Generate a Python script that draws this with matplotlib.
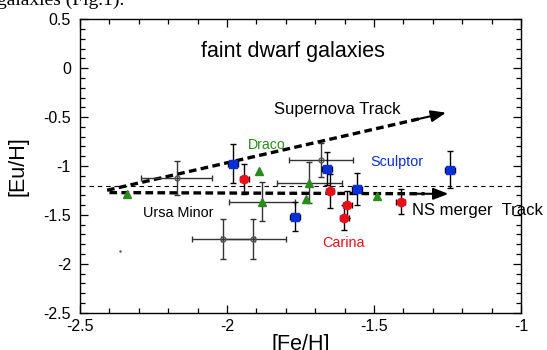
import matplotlib
matplotlib.use("Agg")
import matplotlib.pyplot as plt
from matplotlib.ticker import MultipleLocator

plt.rcParams["font.family"] = ["Liberation Sans", "DejaVu Sans"]

# blue squares
blue_x = [-1.981, -1.661, -1.559, -1.769, -1.240]
blue_y = [-0.976, -1.028, -1.235, -1.518, -1.038]
blue_xerr = [0.017, 0.017, 0.017, 0.017, 0.017]
blue_yerr = [0.196, 0.167, 0.16, 0.148, 0.19]

# red circles
red_x = [-1.941, -1.650, -1.591, -1.601, -1.409]
red_y = [-1.136, -1.253, -1.396, -1.529, -1.365]
red_xerr = [0.015, 0.015, 0.015, 0.015, 0.015]
red_yerr = [0.155, 0.176, 0.14, 0.13, 0.13]

# green triangles (two of them carry error bars)
green_x = [-2.341, -1.891, -1.731, -1.491]
green_y = [-1.289, -1.048, -1.337, -1.304]
green_err_x = [-1.881, -1.720]
green_err_y = [-1.365, -1.171]
green_xerr = [0.113, 0.11]
green_yerr = [0.2, 0.21]

# grey open circles
grey_x = [-2.171, -2.013, -1.911, -1.680]
grey_y = [-1.123, -1.746, -1.746, -0.939]
grey_xerr = [0.12, 0.107, 0.11, 0.11]
grey_yerr = [0.178, 0.2, 0.2, 0.176]

# tracks: (start, end)
sn_track = [(-2.408, -1.248), (-1.255, -0.455)]
ns_track = [(-2.40, -1.272), (-1.247, -1.285)]
ref_level = -1.205

BLUE, RED, GREEN = "#0a2fd6", "#e8101c", "#2a8c1c"

fig = plt.figure(figsize=(5.47, 3.5), dpi=100)
ax = fig.add_axes([0.1463, 0.1066, 0.8062, 0.8383])

ax.plot([-2.47, -1.0], [ref_level, ref_level], color="black", lw=0.8,
        dashes=(4, 3.5))

# dashed tracks with arrowheads
for (x0, y0), (x1, y1) in (sn_track, ns_track):
    ax.plot([x0, x0 + 0.93 * (x1 - x0)], [y0, y0 + 0.93 * (y1 - y0)],
            color="black", lw=2.4, dashes=(2.3, 1.3), solid_capstyle="butt")
    ax.annotate("", xy=(x1, y1),
                xytext=(x0 + 0.9 * (x1 - x0), y0 + 0.9 * (y1 - y0)),
                arrowprops=dict(arrowstyle="-|>,head_length=0.9,head_width=0.35",
                                color="black", lw=1.5, shrinkA=0, shrinkB=0))

ax.errorbar(grey_x, grey_y, xerr=grey_xerr, yerr=grey_yerr, fmt="o", ms=3.5,
            mfc="none", mec="#555555", ecolor="#333333", elinewidth=1,
            capsize=2.2, capthick=1)
ax.errorbar(green_err_x, green_err_y, xerr=green_xerr, yerr=green_yerr, fmt="^",
            ms=6, color=GREEN, ecolor="#333333", elinewidth=1, capsize=2.2,
            capthick=1)
ax.plot(green_x, green_y, "^", ms=6, color=GREEN)
ax.errorbar(blue_x, blue_y, xerr=blue_xerr, yerr=blue_yerr, fmt="s", ms=6.2,
            color=BLUE, ecolor="black", elinewidth=1, capsize=2.2, capthick=1)
ax.errorbar(red_x, red_y, xerr=red_xerr, yerr=red_yerr, fmt="o", ms=6,
            color=RED, ecolor="black", elinewidth=1, capsize=2.2, capthick=1)
ax.plot([-2.364], [-1.869], ".", ms=1.5, color="#555555")

ax.text(-1.777, 0.17, "faint dwarf galaxies", fontsize=15.5, ha="center",
        va="center")
ax.text(-1.624, -0.42, "Supernova Track", fontsize=12, ha="center", va="center")
ax.text(-1.865, -0.79, "Draco", fontsize=10.2, color=GREEN, ha="center",
        va="center")
ax.text(-1.423, -0.956, "Sculptor", fontsize=10.4, color=BLUE, ha="center",
        va="center")
ax.text(-2.166, -1.476, "Ursa Minor", fontsize=10.4, ha="center", va="center")
ax.text(-1.372, -1.46, "NS merger  Track", fontsize=12, ha="left", va="center",
        clip_on=False)
ax.text(-1.603, -1.784, "Carina", fontsize=10.4, color=RED, ha="center",
        va="center")

ax.set_xlim(-2.5, -1.0)
ax.set_ylim(-2.5, 0.5)
ax.xaxis.set_minor_locator(MultipleLocator(0.1))
ax.yaxis.set_minor_locator(MultipleLocator(0.1))
ax.set_xticks([-2.5, -2, -1.5, -1])
ax.set_xticklabels(["-2.5", "-2", "-1.5", "-1"])
ax.set_yticks([-2.5, -2, -1.5, -1, -0.5, 0, 0.5])
ax.set_yticklabels(["-2.5", "-2", "-1.5", "-1", "-0.5", "0", "0.5"])
ax.tick_params(which="both", direction="in", top=True, right=True,
               labelsize=11.5, width=0.9)
ax.tick_params(axis="x", pad=4.5)
ax.tick_params(axis="y", pad=6.5)
ax.tick_params(which="major", length=6)
ax.tick_params(which="minor", length=3.5)
for s in ax.spines.values():
    s.set_linewidth(1.0)

ax.set_xlabel("[Fe/H]", fontsize=15.5, labelpad=0)
ax.set_ylabel("[Eu/H]", fontsize=15.5, labelpad=11)

# clipped caption line from the page above the figure
fig.text(-0.006, 0.986, "galaxies (Fig.1).", fontsize=14,
         family=["Liberation Serif", "DejaVu Serif"], va="baseline")

fig.savefig("out.png", dpi=100)
